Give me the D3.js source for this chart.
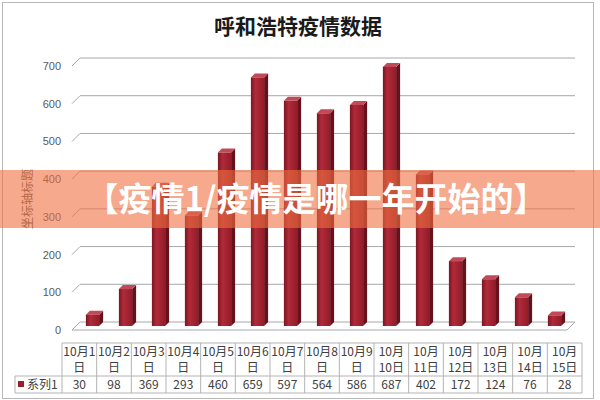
<!DOCTYPE html>
<meta charset="utf-8">
<style>
  body { margin: 0; background: #fff; }
  svg { display: block; font-family: "Noto Sans CJK SC", "Noto Sans", sans-serif; }
  .grid { stroke: #a8a8a8; stroke-width: 1; fill: none; }
  .tick text { fill: #595959; font-size: 11px; }
  .tbl line { stroke: #b4b4b4; }
  .tbl text { fill: #404040; font-size: 12px; }
</style>
<body></body>
<script src="https://cdn.jsdelivr.net/npm/d3@7"></script>
<script>
  const title = '呼和浩特疫情数据';
  const banner = '【疫情1/疫情是哪一年开始的】';
  const axisTitle = '坐标轴标题';
  const seriesName = '系列1';
  const categories = ['10月1日', '10月2日', '10月3日', '10月4日', '10月5日', '10月6日', '10月7日', '10月8日',
    '10月9日', '10月10日', '10月11日', '10月12日', '10月13日', '10月14日', '10月15日'];
  const values = [30, 98, 369, 293, 460, 659, 597, 564, 586, 687, 402, 172, 124, 76, 28];
  const yTicks = [0, 100, 200, 300, 400, 500, 600, 700];

  const W = 600, H = 400;
  const depth = 8;            // 3D offset of the back wall
  const floorL = 72, floorR = 567, floorY = 330, topY = 66;

  const svg = d3.select('body').append('svg').attr('width', W).attr('height', H);

  const defs = svg.append('defs');
  const grad = defs.append('linearGradient').attr('id', 'barFront');
  grad.append('stop').attr('offset', '0%').attr('stop-color', '#7c1521');
  grad.append('stop').attr('offset', '35%').attr('stop-color', '#b02a39');
  grad.append('stop').attr('offset', '100%').attr('stop-color', '#931c2a');

  // chart frame
  svg.append('rect').attr('x', 2.5).attr('y', 2.5).attr('width', 591).attr('height', 396)
    .attr('fill', '#fff').attr('stroke', '#b8b8b8');

  svg.append('text').attr('x', 298).attr('y', 34).attr('text-anchor', 'middle')
    .attr('font-size', 21).attr('font-weight', 'bold').attr('fill', '#1a1a1a').text(title);

  const y = d3.scaleLinear().domain([0, 700]).range([floorY, topY]);
  const x = d3.scaleBand().domain(categories).range([floorL, floorR]).paddingInner(0.6).paddingOuter(0.3);

  // floor
  svg.append('path').attr('class', 'grid').attr('fill', '#fff')
    .attr('d', `M${floorL},${floorY}L${floorR},${floorY}L${floorR + depth},${floorY - depth}L${floorL + depth},${floorY - depth}Z`);

  // back wall grid + left wall diagonals
  const grid = svg.append('g').attr('class', 'grid');
  grid.selectAll('line.h').data(yTicks.slice(1)).join('line').attr('class', 'h')
    .attr('x1', floorL + depth).attr('x2', floorR + depth)
    .attr('y1', d => y(d) - depth).attr('y2', d => y(d) - depth);
  grid.selectAll('line.d').data(yTicks.slice(1)).join('line').attr('class', 'd')
    .attr('x1', floorL).attr('x2', floorL + depth)
    .attr('y1', d => y(d)).attr('y2', d => y(d) - depth);

  // y axis labels
  svg.append('g').attr('transform', 'translate(61,0)')
    .call(d3.axisLeft(y).tickValues(yTicks).tickSize(0).tickPadding(0))
    .call(g => g.select('.domain').remove());

  svg.append('text').attr('transform', 'translate(32,199) rotate(-90)')
    .attr('text-anchor', 'middle').attr('font-size', 12).attr('fill', '#595959').text(axisTitle);

  // 3D bars
  const o = 4, d = 4; // front face offset, bar depth
  const bars = svg.append('g').selectAll('g').data(values).join('g');
  const bx = (v, i) => x(categories[i]) + o;
  const bw = x.bandwidth();
  bars.append('path').attr('fill', '#66111b')
    .attr('d', (v, i) => {
      const x0 = bx(v, i) + bw, yt = y(v) - o, yb = y(0) - o;
      return `M${x0},${yt}L${x0 + d},${yt - d}L${x0 + d},${yb - d}L${x0},${yb}Z`;
    });
  bars.append('path').attr('fill', '#c04a57')
    .attr('d', (v, i) => {
      const x0 = bx(v, i), yt = y(v) - o;
      return `M${x0},${yt}L${x0 + d},${yt - d}L${x0 + bw + d},${yt - d}L${x0 + bw},${yt}Z`;
    });
  bars.append('rect').attr('fill', 'url(#barFront)')
    .attr('x', (v, i) => bx(v, i)).attr('width', bw)
    .attr('y', v => y(v) - o).attr('height', v => y(0) - y(v));

  // data table
  const tx = d3.scaleBand().domain(categories).range([62, 582]);
  const tTop = 343, tMid = 376, tBot = 393, legL = 15;
  const tbl = svg.append('g').attr('class', 'tbl');
  tbl.append('line').attr('x1', 62).attr('x2', 582).attr('y1', tTop).attr('y2', tTop);
  tbl.append('line').attr('x1', legL).attr('x2', 582).attr('y1', tMid).attr('y2', tMid);
  tbl.append('line').attr('x1', legL).attr('x2', 582).attr('y1', tBot).attr('y2', tBot);
  tbl.append('line').attr('x1', legL).attr('x2', legL).attr('y1', tMid).attr('y2', tBot);
  tbl.selectAll('line.v').data(categories).join('line').attr('class', 'v')
    .attr('x1', c => tx(c)).attr('x2', c => tx(c)).attr('y1', tTop).attr('y2', tBot);
  tbl.append('line').attr('x1', 582).attr('x2', 582).attr('y1', tTop).attr('y2', tBot);

  const split = c => c.length === 5 ? [c.slice(0, 4), c.slice(4)] : [c.slice(0, 3), c.slice(3)];
  const head = tbl.selectAll('g.h').data(categories).join('g').attr('class', 'h')
    .attr('transform', c => `translate(${tx(c) + tx.bandwidth() / 2},0)`);
  head.append('text').attr('text-anchor', 'middle').attr('y', 356).text(c => split(c)[0]);
  head.append('text').attr('text-anchor', 'middle').attr('y', 372).text(c => split(c)[1]);

  tbl.selectAll('text.v').data(values).join('text').attr('class', 'v')
    .attr('text-anchor', 'middle')
    .attr('x', (v, i) => tx(categories[i]) + tx.bandwidth() / 2).attr('y', 389).text(v => v);

  tbl.append('rect').attr('x', 18).attr('y', 381).attr('width', 6).attr('height', 6).attr('fill', '#9a1f2d');
  tbl.append('text').attr('x', 27).attr('y', 389).text(seriesName);

  // overlay banner
  svg.append('rect').attr('x', 0).attr('y', 170).attr('width', W).attr('height', 58)
    .attr('fill', 'rgb(240,112,64)').attr('fill-opacity', 0.6);
  svg.append('text').attr('x', 316).attr('y', 211).attr('text-anchor', 'middle')
    .attr('font-size', 33).attr('font-weight', 'bold').attr('fill', '#fff').text(banner);
</script>
